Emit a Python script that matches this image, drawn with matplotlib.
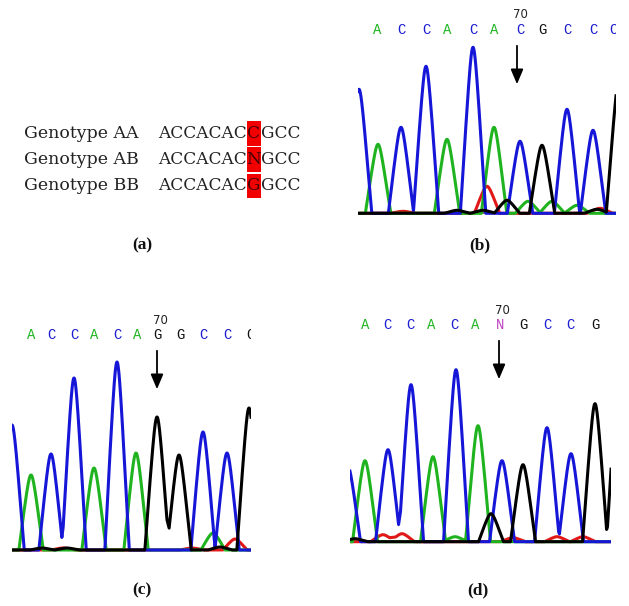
import numpy as np
import matplotlib.pyplot as plt

W, H = 629, 606

# panel (a): genotype sequences
genotypes = ['Genotype AA', 'Genotype AB', 'Genotype BB']
seq_prefix = 'ACCACAC'
snp_bases = ['C', 'N', 'G']
seq_suffix = 'GCC'

# chromatogram peaks: (scan position, height) per dye channel
# panel (b) genotype AA
b_bases = list('ACCACACGCCC')
b_basepos = [19, 43, 68, 89, 115, 136, 162, 184, 209, 235, 255]
b_A = [(20, 69), (89, 74), (136, 86), (170, 12), (194, 12), (219, 8)]
b_C = [(1, 124), (43, 86), (68, 147), (115, 166), (162, 72), (209, 104), (235, 83)]
b_G = [(149, 13), (184, 68), (261, 134), (99, 3), (125, 3), (239, 4)]
b_T = [(129, 27), (242, 5), (45, 2)]

# panel (c) genotype BB
c_bases = list('ACCACAGGCCG')
c_basepos = [19, 39, 62, 82, 105, 125, 145, 168, 191, 215, 238]
c_A = [(19, 75), (82, 82), (124, 97), (201, 17)]
c_C = [(0, 125), (39, 96), (62, 172), (105, 188), (191, 118), (215, 97)]
c_G = [(145, 133), (167, 95), (237, 142), (30, 2), (55, 2), (208, 3)]
c_T = [(223, 11), (51, 2), (180, 2)]

# panel (d) genotype AB
d_bases = list('ACCACANGCCG')
d_basepos = [15, 37, 60, 81, 104, 125, 150, 173, 197, 220, 245]
d_A = [(15, 81), (83, 85), (128, 116), (105, 5)]
d_C = [(-2, 75), (38, 92), (61, 157), (106, 172), (152, 81), (197, 114), (221, 88)]
d_G = [(141, 28), (173, 77), (245, 138), (269, 165), (5, 3)]
d_T = [(33, 7), (52, 8), (163, 4), (207, 5), (233, 5)]

base_colors = {'A': '#22b422', 'C': '#1c1cd0', 'G': '#111111', 'T': '#d81c1c', 'N': '#c040c0'}
trace_colors = {'A': '#1fb41f', 'C': '#1616d8', 'G': '#000000', 'T': '#e01818'}


def trace(x, peaks, a=10.0, r=3.0):
    # triangular peaks with a rounded tip, like the software draws them
    y = np.zeros_like(x)
    for c, h in peaks:
        y += h * np.clip(1 - (np.sqrt((x - c) ** 2 + r ** 2) - r) / a, 0, None)
    return y


def chromatogram(L, R, top, base, bases, basepos, channels, arrow_at, a):
    ax = fig.add_axes([L / W, 1 - (base + 3) / H, (R - L) / W, (base + 3 - top) / H])
    ax.set_xlim(0, R - L)
    ax.set_ylim(-3, base - top)
    ax.axis('off')
    x = np.linspace(-15, R - L + 15, 3000)
    ax.axhline(0, color='#444444', lw=1.2, zorder=1)
    for ch in ['T', 'A', 'C', 'G']:
        ax.plot(x, trace(x, channels[ch], a=a), color=trace_colors[ch], lw=2.2, zorder=2)
    ly = base - top - 30
    for b, xp in zip(bases, basepos):
        ax.text(xp, ly, b, color=base_colors[b], fontsize=10, family='Liberation Mono',
                ha='center', va='center', clip_on=True)
    ax.text(arrow_at, ly + 15, '70', fontsize=8.5, color='#222222', ha='center', va='center')
    ax.annotate('', xy=(arrow_at - 3, ly - 57), xytext=(arrow_at - 3, ly - 13),
                arrowprops=dict(arrowstyle='-|>,head_width=0.38,head_length=0.9',
                                color='black', lw=1.3))
    return ax


fig = plt.figure(figsize=(W / 100, H / 100), dpi=100)
ax0 = fig.add_axes([0, 0, 1, 1])
ax0.set_xlim(0, W)
ax0.set_ylim(H, 0)
ax0.axis('off')

# panel (a)
rows_y = [133, 160, 186]
box_tops = [120.7, 147.3, 174]
box_bots = [145.7, 171.7, 198.3]
for g, s, yy, bt, bb in zip(genotypes, snp_bases, rows_y, box_tops, box_bots):
    ax0.add_patch(plt.Rectangle((247, bt), 13.7, bb - bt, color='#f20000', lw=0))
    ax0.text(24, yy, g, fontsize=12.5, family='DejaVu Serif', color='#222222', va='center')
    ax0.text(246.5, yy, seq_prefix, fontsize=12.2, family='DejaVu Serif', color='#222222',
             va='center', ha='right')
    ax0.text(253.8, yy, s, fontsize=12.2, family='DejaVu Serif', color='#4a0000', va='center', ha='center')
    ax0.text(260.8, yy, seq_suffix, fontsize=12.2, family='DejaVu Serif', color='#222222', va='center')

chromatogram(358, 616, 0, 213.3, b_bases, b_basepos,
             {'A': b_A, 'C': b_C, 'G': b_G, 'T': b_T}, 162, 10.0)
chromatogram(12, 251, 305, 550, c_bases, c_basepos,
             {'A': c_A, 'C': c_C, 'G': c_G, 'T': c_T}, 148, 9.5)
chromatogram(350, 611, 295, 541.7, d_bases, d_basepos,
             {'A': d_A, 'C': d_C, 'G': d_G, 'T': d_T}, 152, 9.8)

for lab, lx, ly in [('(a)', 142, 245), ('(b)', 480, 245), ('(c)', 142, 590), ('(d)', 478, 590)]:
    ax0.text(lx, ly, lab, fontsize=12.5, family='Liberation Serif', weight='bold',
             ha='center', va='center', color='#111111')

fig.savefig('out.png', dpi=100)
